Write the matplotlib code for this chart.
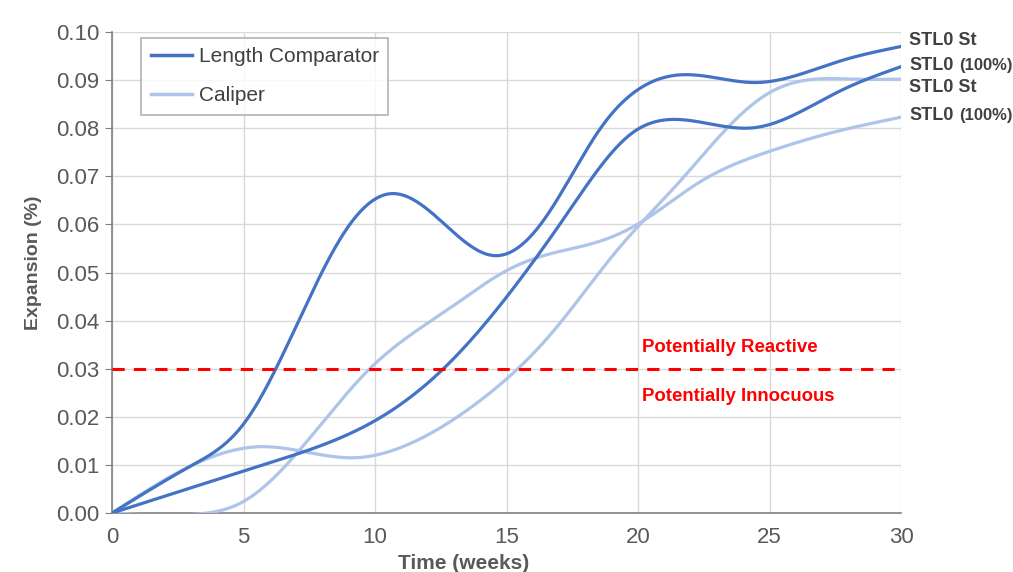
import numpy as np
import matplotlib.pyplot as plt
from matplotlib.lines import Line2D

plt.rcParams['font.family'] = ['Liberation Sans', 'DejaVu Sans']

# Length comparator series (weeks, expansion %)
lc_st_x = [0, 3.0, 5.0, 7.1, 8.9, 10.6, 12.2, 14.6, 16.4, 18.6, 21.6, 24.5, 27.7, 30]
lc_st_y = [0, 0.0098, 0.0185, 0.040, 0.0589, 0.0664, 0.0622, 0.0535, 0.0608,
           0.0802, 0.0911, 0.0895, 0.094, 0.097]
lc_100_x = [0, 5.0, 7.0, 10.0, 12.6, 15.1, 17.3, 19.8, 21.6, 24.4, 27.7, 30]
lc_100_y = [0, 0.0087, 0.0122, 0.0192, 0.030, 0.0456, 0.0622, 0.0791, 0.0818,
            0.0801, 0.0878, 0.0928]

# Caliper series
cal_st_x = [0, 3.0, 5.7, 9.25, 11.4, 14.0, 16.7, 19.2, 21.6, 23.4, 25.0, 26.4, 28.3, 30]
cal_st_y = [0, 0.0098, 0.0138, 0.0115, 0.0146, 0.0234, 0.0373, 0.0546, 0.069,
            0.0801, 0.0874, 0.090, 0.0902, 0.0902]
cal_100_x = [0, 3.0, 5.0, 7.1, 9.8, 12.9, 15.0, 16.4, 18.6, 20.0, 22.4, 25.0, 27.1, 30]
cal_100_y = [0, -0.0003, 0.0024, 0.0129, 0.030, 0.0428, 0.0504, 0.0535, 0.0566,
             0.0601, 0.069, 0.0752, 0.0787, 0.0823]

threshold = 0.03
end_labels = ['STL0 St', 'STL0', 'STL0 St', 'STL0']
end_label_y = [0.0983, 0.0931, 0.0884, 0.0827]

dark = '#4472c4'
light = '#aec4e8'


def smooth(x, y, n=800):
    # natural cubic spline through the read points
    x = np.asarray(x, float)
    y = np.asarray(y, float)
    k = len(x)
    h = np.diff(x)
    A = np.zeros((k, k))
    b = np.zeros(k)
    A[0, 0] = A[-1, -1] = 1
    for j in range(1, k - 1):
        A[j, j - 1] = h[j - 1]
        A[j, j] = 2 * (h[j - 1] + h[j])
        A[j, j + 1] = h[j]
        b[j] = 6 * ((y[j + 1] - y[j]) / h[j] - (y[j] - y[j - 1]) / h[j - 1])
    M = np.linalg.solve(A, b)
    xs = np.linspace(x[0], x[-1], n)
    i = np.clip(np.searchsorted(x, xs) - 1, 0, k - 2)
    hi = h[i]
    a = x[i + 1] - xs
    c = xs - x[i]
    ys = (M[i] * a**3 / (6 * hi) + M[i + 1] * c**3 / (6 * hi)
          + (y[i] / hi - M[i] * hi / 6) * a + (y[i + 1] / hi - M[i + 1] * hi / 6) * c)
    return xs, ys


fig = plt.figure(figsize=(10.13, 5.72), dpi=100)
ax = fig.add_axes([0.1106, 0.1031, 0.7789, 0.8409])

for xs, ys, c in [(cal_st_x, cal_st_y, light), (cal_100_x, cal_100_y, light),
                  (lc_st_x, lc_st_y, dark), (lc_100_x, lc_100_y, dark)]:
    sx, sy = smooth(xs, ys)
    ax.plot(sx, sy, color=c, lw=2.3, solid_capstyle='round', zorder=3)

ax.axhline(threshold, color='#ff0000', lw=2.2, ls=(0, (4, 3)), zorder=4)
ax.text(20.15, 0.0345, 'Potentially Reactive', color='#ff0000', fontsize=13.4,
        fontweight='bold', va='center', ha='left')
ax.text(20.15, 0.0243, 'Potentially Innocuous', color='#ff0000', fontsize=13.4,
        fontweight='bold', va='center', ha='left')

ax.set_xlim(0, 30)
ax.set_ylim(0, 0.10)
ax.set_xticks(np.arange(0, 31, 5))
ax.set_yticks(np.arange(0, 0.101, 0.01))
ax.set_yticklabels([f'{v:.2f}' for v in np.arange(0, 0.101, 0.01)])
ax.grid(True, color='#d9d9d9', lw=1)
ax.set_axisbelow(True)
for s in ['top', 'right']:
    ax.spines[s].set_visible(False)
for s in ['left', 'bottom']:
    ax.spines[s].set_color('#808080')
    ax.spines[s].set_linewidth(1.2)
ax.tick_params(axis='y', length=5, color='#808080', labelsize=16,
               labelcolor='#595959', pad=4)
ax.tick_params(axis='x', length=0, labelsize=16, labelcolor='#595959', pad=10)

ax.text(-0.099, 0.52, 'Expansion (%)', transform=ax.transAxes, rotation=90,
        fontsize=14, fontweight='bold', color='#595959', ha='center', va='center')
ax.text(0.445, -0.105, 'Time (weeks)', transform=ax.transAxes, fontsize=15,
        fontweight='bold', color='#595959', ha='center', va='center')

for lab, yv in zip(end_labels, end_label_y):
    t = ax.text(30.3, yv, lab, fontsize=13, fontweight='bold', color='#404040',
                va='center', ha='left', clip_on=False)
    if lab == 'STL0':
        ax.annotate('(100%)', xy=(1, 0.5), xycoords=t, xytext=(4, 0),
                    textcoords='offset points', fontsize=12, fontweight='bold',
                    color='#404040', va='center', ha='left')

handles = [Line2D([], [], color=dark, lw=2.5), Line2D([], [], color=light, lw=2.5)]
leg = ax.legend(handles, ['Length Comparator', 'Caliper'], loc='upper left',
                bbox_to_anchor=(0.037, 0.9875), borderaxespad=0, fontsize=15,
                frameon=True, fancybox=False, edgecolor='#a0a0a0',
                handlelength=2.0, handletextpad=0.3, borderpad=0.45,
                labelspacing=0.95)
leg.get_frame().set_linewidth(1.2)
for txt in leg.get_texts():
    txt.set_color('#404040')

fig.savefig('out.png', dpi=100)
